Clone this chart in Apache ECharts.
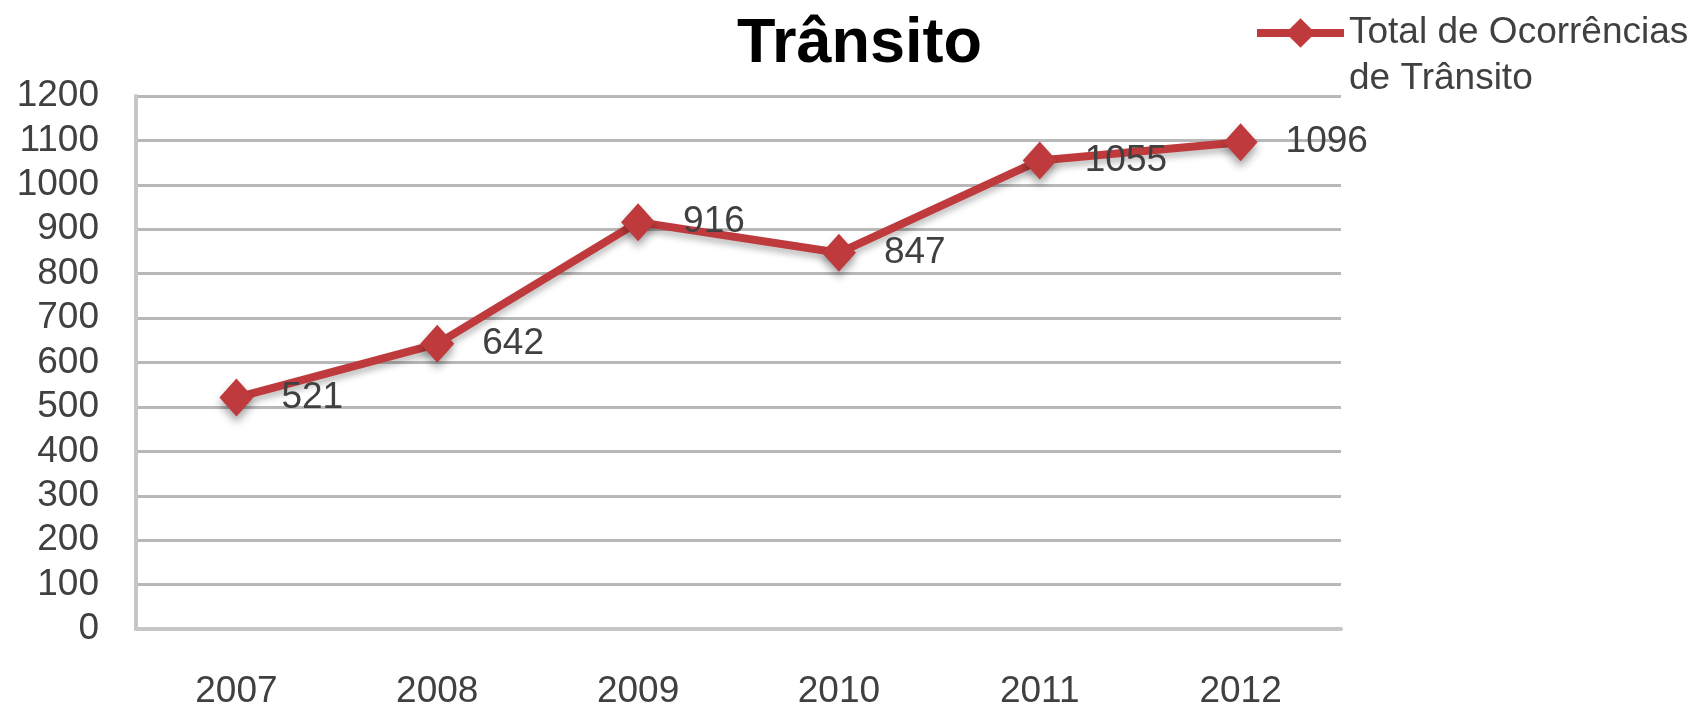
<!DOCTYPE html>
<html>
<head>
    <meta charset="utf-8">
    <title>Trânsito</title>
    <script src="https://cdn.jsdelivr.net/npm/echarts@6/dist/echarts.min.js"></script>
    <style>
        body { margin: 0; background: #fff; }
        #chart { width: 1692px; height: 710px; }
    </style>
</head>
<body>
<div id="chart"></div>
<script>
// dados
const anos = ['2007', '2008', '2009', '2010', '2011', '2012'];
const ocorrencias = [521, 642, 916, 847, 1055, 1096];
const nomeSerie = 'Total de Ocorrências de Trânsito';

const vermelho = '#BF3A3C';
const fonte = '"Liberation Sans", Arial, sans-serif';

let chart = echarts.init(document.getElementById('chart'));
let option = {
    backgroundColor: '#fff',
    animation: false,
    title: {
        text: 'Trânsito',
        left: 737,
        top: 13,
        padding: 0,
        textStyle: { fontFamily: fonte, fontSize: 63, fontWeight: 'bold', color: '#000' }
    },
    legend: {
        left: 1253,
        top: -36,
        padding: 0,
        itemWidth: 87,
        itemHeight: 37,
        // linha vazia no início para alinhar o ícone com a primeira linha
        formatter: () => ' \nTotal de Ocorrências\nde Trânsito',
        lineStyle: { width: 8 },
        textStyle: {
            fontFamily: fonte, fontSize: 37, color: '#404040', lineHeight: 46
        }
    },
    grid: { left: 136, right: 351, top: 96, bottom: 79, containLabel: false },
    xAxis: {
        type: 'category',
        data: anos,
        boundaryGap: true,
        axisLine: { show: true, lineStyle: { color: '#c6c6c6', width: 4 } },
        axisTick: { show: false },
        axisLabel: { margin: 44, fontFamily: fonte, fontSize: 37, color: '#404040' }
    },
    yAxis: {
        type: 'value',
        min: 0,
        max: 1200,
        interval: 100,
        axisLine: { show: true, lineStyle: { color: '#c6c6c6', width: 4 } },
        axisTick: { show: false },
        axisLabel: {
            margin: 37, fontFamily: fonte, fontSize: 37, color: '#404040',
            formatter: v => String(v)
        },
        splitLine: { lineStyle: { color: '#b8b8b8', width: 3 } }
    },
    series: [{
        name: nomeSerie,
        type: 'line',
        data: ocorrencias,
        symbol: 'diamond',
        symbolSize: [34, 38],
        lineStyle: {
            color: vermelho, width: 8,
            shadowColor: 'rgba(0,0,0,0.25)', shadowBlur: 6, shadowOffsetY: 5
        },
        itemStyle: {
            color: vermelho,
            shadowColor: 'rgba(0,0,0,0.35)', shadowBlur: 8, shadowOffsetY: 6
        },
        label: {
            show: true,
            position: 'right',
            distance: 28,
            fontFamily: fonte,
            fontSize: 37,
            color: '#404040'
        }
    }]
};

chart.setOption(option);
</script>
</body>
</html>
